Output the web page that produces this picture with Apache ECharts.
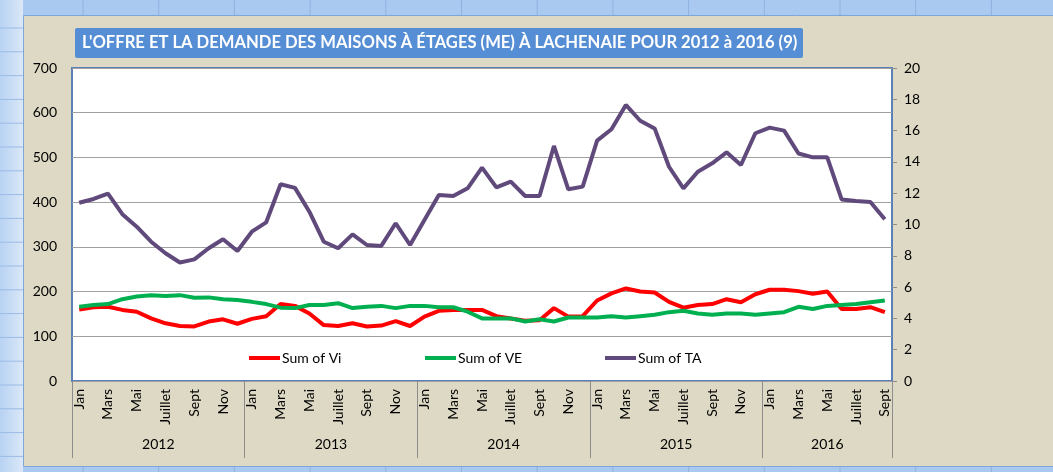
<!DOCTYPE html>
<html>
<head>
<meta charset="utf-8">
<script src="https://cdn.jsdelivr.net/npm/echarts/dist/echarts.min.js"></script>
<style>
  html, body { margin: 0; padding: 0; background: #a9c9f0; }
  #chart { width: 1053px; height: 472px; }
</style>
</head>
<body>
<div id="chart"></div>
<script>
// data
const months = ['Jan', 'Févr', 'Mars', 'Avr', 'Mai', 'Juin', 'Juillet', 'Août', 'Sept', 'Oct', 'Nov', 'Déc'];
const years = ['2012', '2013', '2014', '2015', '2016'];
const monthsPerYear = [12, 12, 12, 12, 9];

const vi = [160, 165, 166, 159, 155, 140, 129, 123, 122, 133, 138, 128,
  139, 145, 172, 168, 151, 125, 123, 129, 122, 124, 134, 123,
  144, 157, 159, 159, 159, 145, 140, 135, 136, 163, 144, 145,
  180, 196, 207, 200, 198, 177, 164, 170, 172, 183, 176, 194,
  204, 204, 201, 195, 200, 161, 161, 165, 154];
const ve = [166, 170, 172, 183, 189, 192, 190, 192, 186, 187, 183, 181,
  177, 172, 164, 163, 170, 170, 174, 163, 166, 168, 163, 168,
  168, 165, 165, 155, 140, 140, 140, 133, 138, 133, 142, 142,
  142, 145, 142, 145, 148, 154, 157, 151, 148, 151, 151, 148,
  151, 154, 166, 161, 168, 170, 172, 176, 180];
const ta = [11.39, 11.63, 11.97, 10.66, 9.86, 8.90, 8.16, 7.57, 7.77, 8.48, 9.06, 8.31,
  9.54, 10.14, 12.57, 12.34, 10.82, 8.90, 8.48, 9.37, 8.69, 8.63, 10.08, 8.69,
  10.29, 11.89, 11.82, 12.31, 13.63, 12.37, 12.74, 11.82, 11.82, 15.02, 12.25, 12.42,
  15.36, 16.09, 17.64, 16.63, 16.14, 13.69, 12.31, 13.37, 13.91, 14.61, 13.80, 15.83,
  16.19, 16.0, 14.54, 14.29, 14.29, 11.6, 11.5, 11.44, 10.33];

const seriesNames = ['Sum of Vi', 'Sum of VE', 'Sum of TA'];
const seriesColors = ['#ff0000', '#00b050', '#604a7b'];
const title = "L'OFFRE ET LA DEMANDE DES MAISONS À ÉTAGES (ME) À LACHENAIE POUR 2012 à 2016 (9)";

// category list and year boundaries
const categories = [];
const yearBounds = [0];
const yearMids = [];
years.forEach((y, i) => {
  for (let m = 0; m < monthsPerYear[i]; m++) categories.push(months[m]);
  const start = yearBounds[yearBounds.length - 1];
  yearBounds.push(start + monthsPerYear[i]);
  yearMids.push(start + monthsPerYear[i] / 2);
});

const chart = echarts.init(document.getElementById('chart'));

// spreadsheet look around the chart (edges only, chart itself is beige)
const bg = [];
bg.push({ type: 'rect', shape: { x: 0, y: 0, width: 1053, height: 15 }, silent: true,
  style: { fill: '#a9c9f0' } });
bg.push({ type: 'rect', shape: { x: 0, y: 467, width: 1053, height: 5 }, silent: true,
  style: { fill: '#a9c9f0' } });
bg.push({ type: 'rect', shape: { x: 0, y: 0, width: 23, height: 472 }, silent: true,
  style: { fill: new echarts.graphic.LinearGradient(0, 0, 1, 0, [
    { offset: 0, color: '#b7d2f2' }, { offset: 1, color: '#dbe8f8' }]) } });
for (let y = 28; y < 472; y += 23.8) {
  bg.push({ type: 'line', shape: { x1: 0, y1: y, x2: 23, y2: y }, silent: true,
    style: { stroke: '#9bbbe6', lineWidth: 1 } });
}
for (let x = 83; x < 1053; x += 75.7) {
  bg.push({ type: 'line', shape: { x1: x, y1: 0, x2: x, y2: 15 }, silent: true,
    style: { stroke: '#8fb2e0', lineWidth: 1 } });
  bg.push({ type: 'line', shape: { x1: x, y1: 467, x2: x, y2: 472 }, silent: true,
    style: { stroke: '#8fb2e0', lineWidth: 1 } });
}
bg.push({ type: 'rect', shape: { x: 23.5, y: 15.5, width: 1040, height: 451 }, silent: true,
  style: { fill: null, stroke: '#7fa6da', lineWidth: 1 } });
bg.push({ type: 'rect', shape: { x: 75, y: 28, width: 728, height: 30, r: 2 }, silent: true,
  style: { fill: '#558ed5' } });
bg.push({ type: 'text', x: 82, y: 43, silent: true,
  style: { text: title, fill: '#ffffff', font: 'bold 16.6px Lato', verticalAlign: 'middle' } });

const legends = seriesNames.map((name, i) => ({
  data: [name],
  left: [244, 420, 600][i],
  top: 346,
  icon: 'rect',
  itemWidth: 31,
  itemHeight: 4,
  itemGap: 0,
  textStyle: { fontFamily: 'Lato', fontSize: 14, color: '#000', padding: [0, 0, 0, -3] }
}));

chart.setOption({
  animation: false,
  backgroundColor: '#ddd9c4',
  textStyle: { fontFamily: 'Lato' },
  graphic: bg,
  legend: legends,
  grid: {
    left: 72, right: 161, top: 68, bottom: 91,
    show: true, backgroundColor: '#ffffff', borderColor: '#5b80b6', borderWidth: 2
  },
  xAxis: [
    {
      type: 'category',
      data: categories,
      boundaryGap: true,
      axisLine: { show: false },
      axisTick: { show: false },
      axisLabel: { interval: 1, rotate: 90, margin: 8, fontSize: 14, color: '#000' }
    },
    {
      type: 'value',
      min: 0, max: yearBounds[yearBounds.length - 1],
      position: 'bottom',
      axisLine: { show: false },
      splitLine: { show: false },
      axisTick: { show: true, customValues: yearBounds, length: 77, lineStyle: { color: '#8c8c8c' } },
      axisLabel: {
        customValues: yearMids, margin: 56, fontSize: 14, color: '#000',
        formatter: (v) => years[yearMids.indexOf(v)]
      }
    }
  ],
  yAxis: [
    {
      type: 'value', min: 0, max: 700, interval: 100,
      axisLine: { show: false }, axisTick: { show: false },
      axisLabel: { margin: 15, fontSize: 14, color: '#000' },
      splitLine: { lineStyle: { color: '#a0a0a0', width: 1 } }
    },
    {
      type: 'value', min: 0, max: 20, interval: 2, position: 'right',
      axisLine: { show: false },
      axisTick: { show: true, length: 5, lineStyle: { color: '#8c8c8c' } },
      axisLabel: { margin: 12, fontSize: 14, color: '#000' },
      splitLine: { show: false }
    }
  ],
  series: [vi, ve, ta].map((d, i) => ({
    name: seriesNames[i],
    type: 'line',
    data: d,
    yAxisIndex: i === 2 ? 1 : 0,
    symbol: 'none',
    color: seriesColors[i],
    lineStyle: { width: 4, color: seriesColors[i] },
    z: 3 + i
  }))
});
</script>
</body>
</html>
